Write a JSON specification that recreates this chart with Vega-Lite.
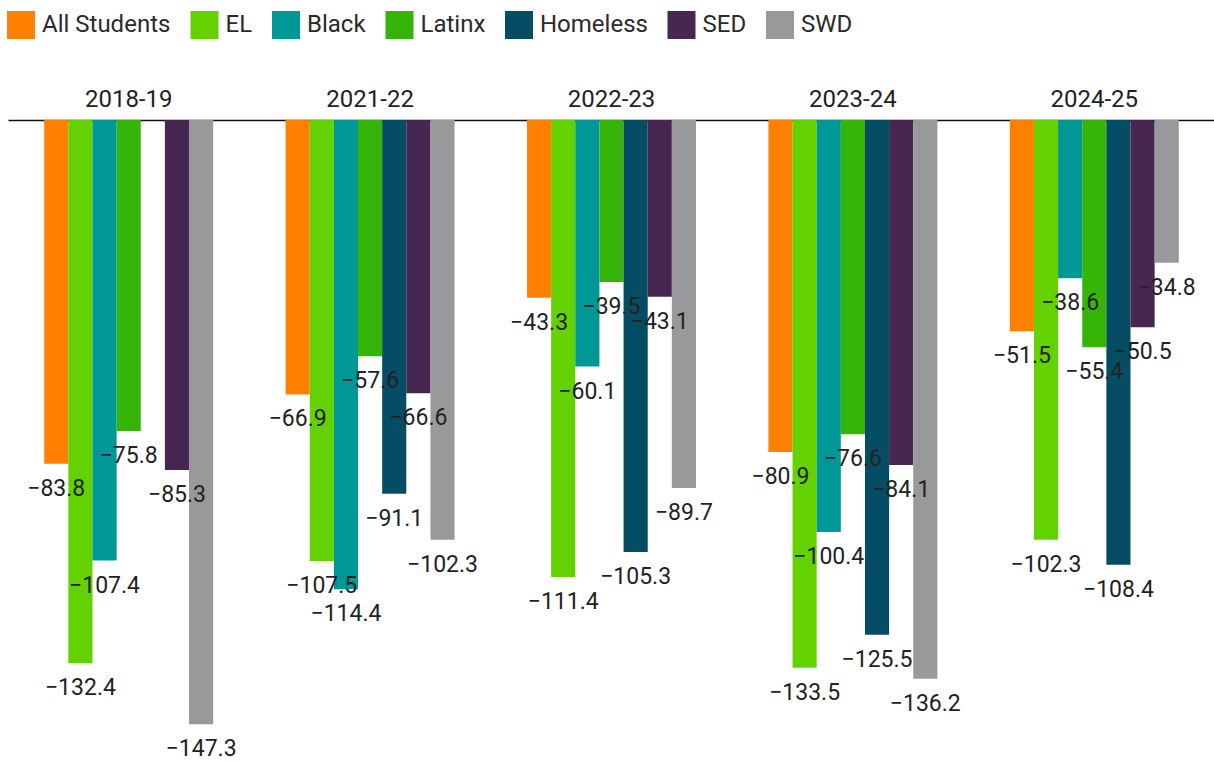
{
  "$schema": "https://vega.github.io/schema/vega-lite/v6.json",
  "width": 1207,
  "height": 640,
  "autosize": {"type": "none"},
  "padding": {"left": 8, "top": 120, "right": 0, "bottom": 2},
  "background": "white",
  "config": {"view": {"stroke": null}, "font": "Roboto"},
  "data": {
    "values": [
      {"year": "2018-19", "group": "All Students", "value": -83.8},
      {"year": "2018-19", "group": "EL", "value": -132.4},
      {"year": "2018-19", "group": "Black", "value": -107.4},
      {"year": "2018-19", "group": "Latinx", "value": -75.8},
      {"year": "2018-19", "group": "SED", "value": -85.3},
      {"year": "2018-19", "group": "SWD", "value": -147.3},
      {"year": "2021-22", "group": "All Students", "value": -66.9},
      {"year": "2021-22", "group": "EL", "value": -107.5},
      {"year": "2021-22", "group": "Black", "value": -114.4},
      {"year": "2021-22", "group": "Latinx", "value": -57.6},
      {"year": "2021-22", "group": "Homeless", "value": -91.1},
      {"year": "2021-22", "group": "SED", "value": -66.6},
      {"year": "2021-22", "group": "SWD", "value": -102.3},
      {"year": "2022-23", "group": "All Students", "value": -43.3},
      {"year": "2022-23", "group": "EL", "value": -111.4},
      {"year": "2022-23", "group": "Black", "value": -60.1},
      {"year": "2022-23", "group": "Latinx", "value": -39.5},
      {"year": "2022-23", "group": "Homeless", "value": -105.3},
      {"year": "2022-23", "group": "SED", "value": -43.1},
      {"year": "2022-23", "group": "SWD", "value": -89.7},
      {"year": "2023-24", "group": "All Students", "value": -80.9},
      {"year": "2023-24", "group": "EL", "value": -133.5},
      {"year": "2023-24", "group": "Black", "value": -100.4},
      {"year": "2023-24", "group": "Latinx", "value": -76.6},
      {"year": "2023-24", "group": "Homeless", "value": -125.5},
      {"year": "2023-24", "group": "SED", "value": -84.1},
      {"year": "2023-24", "group": "SWD", "value": -136.2},
      {"year": "2024-25", "group": "All Students", "value": -51.5},
      {"year": "2024-25", "group": "EL", "value": -102.3},
      {"year": "2024-25", "group": "Black", "value": -38.6},
      {"year": "2024-25", "group": "Latinx", "value": -55.4},
      {"year": "2024-25", "group": "Homeless", "value": -108.4},
      {"year": "2024-25", "group": "SED", "value": -50.5},
      {"year": "2024-25", "group": "SWD", "value": -34.8}
    ]
  },
  "encoding": {
    "x": {
      "field": "year",
      "type": "nominal",
      "sort": ["2018-19", "2021-22", "2022-23", "2023-24", "2024-25"],
      "scale": {"paddingInner": 0.3, "paddingOuter": 0.15},
      "axis": {
        "orient": "top",
        "title": null,
        "ticks": false,
        "labelPadding": 9,
        "labelFontSize": 24,
        "labelFont": "Roboto",
        "labelColor": "#222222",
        "labelAngle": 0,
        "domainColor": "#111111",
        "domainWidth": 1.5,
        "grid": false
      }
    },
    "xOffset": {
      "field": "group",
      "type": "nominal",
      "sort": ["All Students", "EL", "Black", "Latinx", "Homeless", "SED", "SWD"],
      "scale": {"paddingInner": 0, "paddingOuter": 0}
    },
    "y": {
      "field": "value",
      "type": "quantitative",
      "scale": {"domain": [-156, 0], "nice": false},
      "axis": null
    }
  },
  "layer": [
    {
      "mark": {"type": "bar"},
      "encoding": {
        "color": {
          "field": "group",
          "type": "nominal",
          "sort": ["All Students", "EL", "Black", "Latinx", "Homeless", "SED", "SWD"],
          "scale": {
            "domain": ["All Students", "EL", "Black", "Latinx", "Homeless", "SED", "SWD"],
            "range": ["#FF8000", "#64D100", "#009797", "#36B408", "#044D65", "#472652", "#97999B"]
          },
          "legend": {
            "orient": "none",
            "legendX": -1,
            "legendY": -109,
            "direction": "horizontal",
            "columns": 7,
            "title": null,
            "symbolType": "square",
            "symbolSize": 784,
            "symbolStrokeWidth": 0,
            "symbolOpacity": 1,
            "labelFontSize": 24,
            "labelFont": "Roboto",
            "labelColor": "#2a2a2a",
            "labelOffset": 7,
            "columnPadding": 19.5
          }
        }
      }
    },
    {
      "mark": {"type": "text", "dy": 25, "fontSize": 23, "font": "Roboto", "color": "#222222", "baseline": "middle"},
      "encoding": {
        "text": {"field": "value", "type": "quantitative", "format": ".1f"}
      }
    }
  ]
}
